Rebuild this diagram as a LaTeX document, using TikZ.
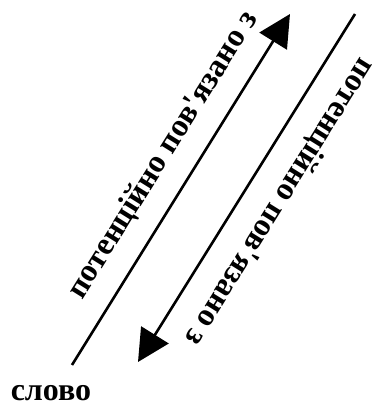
\documentclass[tikz,border=0pt]{standalone}
\usepackage{fontspec}
\newfontfamily\ukrfont{Liberation Serif}
\usetikzlibrary{arrows.meta}
\tikzset{
  link/.style = {line width=2.6pt, -{Triangle[length=32pt,width=32pt]}},
  caption/.style = {font=\ukrfont\bfseries\fontsize{32}{36}\selectfont,
                    inner sep=0pt, outer sep=0pt}
}

\begin{document}
\begin{tikzpicture}[x=1pt,y=1pt]
	\useasboundingbox (0,0) rectangle (373,405);
	\def \ang{58}

	% Line ends
	\coordinate (up_start)   at (72,40);
	\coordinate (up_end)     at (290,391);
	\coordinate (down_start) at (355,391);
	\coordinate (down_end)   at (138,43);

	% Arrows
	\draw[link] (up_start) -- (up_end);
	\draw[link] (down_start) -- (down_end);

	% Labels
	\node[caption, rotate=\ang]     (up_label)   at (163,250) {потенційно пов'язано з};
	\node[caption, rotate=180+\ang] (down_label) at (280,203) {потенційно пов'язано з};
	\node[caption] (word) at (51,12) {слово};
\end{tikzpicture}
\end{document}
